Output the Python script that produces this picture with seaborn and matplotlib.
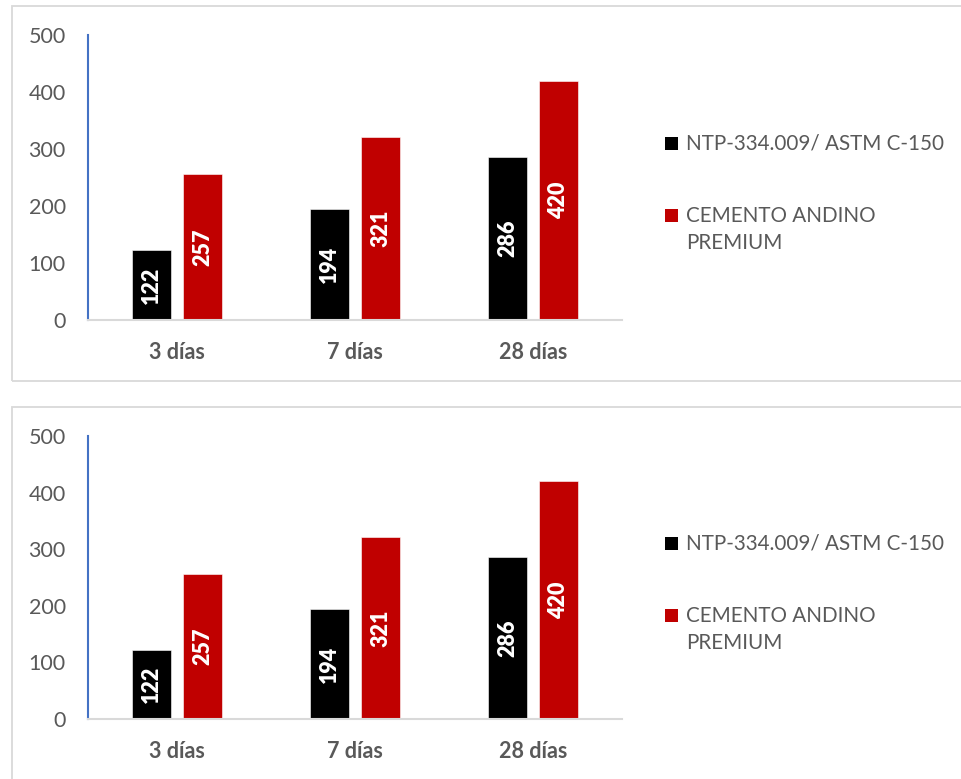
import numpy as np
import pandas as pd
import matplotlib
matplotlib.use("Agg")
import matplotlib.pyplot as plt
import seaborn as sns
from matplotlib.patches import Rectangle

# ---- data ----
categories = ["3 días", "7 días", "28 días"]
series = ["NTP-334.009/ ASTM C-150", "CEMENTO ANDINO\nPREMIUM"]
ntp_values = [122, 194, 286]
andino_values = [257, 321, 420]
yticks = [0, 100, 200, 300, 400, 500]
colors = ["#000000", "#C00000"]

df = pd.DataFrame({
    "cat": categories * 2,
    "serie": [series[0]] * len(categories) + [series[1]] * len(categories),
    "val": ntp_values + andino_values,
})

sns.set_theme(style="white")
plt.rcParams["font.family"] = ["Lato", "DejaVu Sans"]

W, H = 961, 779
fig = plt.figure(figsize=(W / 100, H / 100), dpi=100)
fig.patch.set_facecolor("white")

GRAY = "#595959"
FS = 15.5
LFS = 14.9


def rect(x0, y0, x1, y1):
    return [x0 / W, 1 - y1 / H, (x1 - x0) / W, (y1 - y0) / H]


panels = [
    dict(ax=(88, 35, 622, 320), box=(12, 6, 990, 381), dy=0),
    dict(ax=(88, 436, 622, 719), box=(12, 407, 990, 810), dy=400),
]

for p in panels:
    bx0, by0, bx1, by1 = p["box"]
    fig.patches.append(Rectangle((bx0 / W, 1 - by1 / H), (bx1 - bx0) / W, (by1 - by0) / H,
                                 transform=fig.transFigure, fill=False,
                                 edgecolor="#D9D9D9", linewidth=1.3, clip_on=False))
    ax = fig.add_axes(rect(*p["ax"]))
    ax.set_facecolor("none")
    sns.barplot(data=df, x="cat", y="val", hue="serie", palette=colors,
                saturation=1, width=0.573, gap=0.216, legend=False, ax=ax,
                edgecolor="white", linewidth=0.4)
    for cont in ax.containers:
        ax.bar_label(cont, fmt="%d", label_type="center", rotation=90,
                     color="white", fontweight="heavy", fontsize=FS)
    ax.set_ylim(0, 500)
    ax.set_xlim(-0.5, len(categories) - 0.5)
    ax.set_yticks(yticks)
    ax.set_xlabel("")
    ax.set_ylabel("")
    ax.tick_params(axis="y", length=0, pad=16, labelsize=FS, labelcolor=GRAY)
    ax.tick_params(axis="x", length=0, pad=16, labelsize=FS, labelcolor=GRAY)
    for lab in ax.get_xticklabels():
        lab.set_fontweight("bold")
    for s in ["top", "right"]:
        ax.spines[s].set_visible(False)
    ax.spines["left"].set_color("#4472C4")
    ax.spines["left"].set_linewidth(1.5)
    ax.spines["bottom"].set_color("#D9D9D9")
    ax.spines["bottom"].set_linewidth(1.5)

    # legend
    leg_tops = [137, 209]
    for name, col, ty in zip(series, colors, leg_tops):
        ty = ty + p["dy"]
        fig.patches.append(Rectangle((665 / W, 1 - (ty + 13) / H), 13 / W, 13 / H,
                                     transform=fig.transFigure, facecolor=col,
                                     edgecolor="none"))
        fig.text(686 / W, 1 - (ty - 3) / H, name, ha="left", va="top",
                 fontsize=LFS, color=GRAY, linespacing=1.46)

fig.savefig("out.png", dpi=100, facecolor="white")
